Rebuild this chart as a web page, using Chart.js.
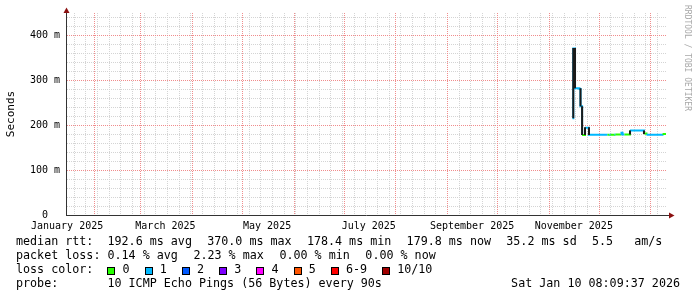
<!DOCTYPE html>
<html>
<head>
<meta charset="utf-8">
<script src="https://cdn.jsdelivr.net/npm/chart.js@4.4.1/dist/chart.umd.min.js"></script>
<style>
  html, body { margin: 0; padding: 0; background: #fff; }
  #wrap { position: relative; width: 697px; height: 297px; overflow: hidden; }
  #c { position: absolute; left: 0; top: 0; }
  .leg { position: absolute; left: 16px; font: 11.7px "DejaVu Sans Mono", monospace; line-height: 14px; white-space: pre; color: #000; }
  .box { display: inline-block; width: 6px; height: 6px; border: 1px solid #000; margin-right: 7px; vertical-align: -1.5px; }
  .item { margin-right: 15.2px; }
  #stamp { position: absolute; right: 17px; top: 276px; font: 11.7px "DejaVu Sans Mono", monospace; line-height: 14px; white-space: pre; }
  #mark { position: absolute; left: 682px; top: 5px; width: 10px; font: 8px "DejaVu Sans Mono", monospace; line-height: 10px; writing-mode: vertical-rl; color: #a8a8a8; white-space: pre; }
</style>
</head>
<body>
<div id="wrap">
  <canvas id="c" width="697" height="297"></canvas>
  <div class="leg" id="row1" style="top:234px"></div>
  <div class="leg" id="row2" style="top:248px"></div>
  <div class="leg" id="row3" style="top:262px"></div>
  <div class="leg" id="row4" style="top:276px"></div>
  <div id="stamp">Sat Jan 10 08:09:37 2026</div>
  <div id="mark">RRDTOOL / TOBI OETIKER</div>
</div>
<script>
// time window: last 360 days
const START = Date.UTC(2025, 0, 15, 8, 9, 37);
const END = Date.UTC(2026, 0, 10, 8, 9, 37);

// median rtt steps (ms) and lost pings per step
const sampleTimes = [
  '2025-11-15T06:00', '2025-11-15T17:00', '2025-11-16T18:00', '2025-11-19T10:00',
  '2025-11-20T01:00', '2025-11-21T00:00', '2025-11-22T18:00', '2025-11-25T03:00',
  '2025-12-06T06:00', '2025-12-07T10:00', '2025-12-08T01:00', '2025-12-10T10:00',
  '2025-12-11T01:00', '2025-12-14T01:00', '2025-12-14T15:00', '2025-12-15T06:00',
  '2025-12-16T10:00', '2025-12-19T18:00', '2025-12-28T03:00', '2025-12-29T15:00',
  '2026-01-08T06:00', '2026-01-10T08:09'
];
const medianMs = [
  215, 370, 282, 280,
  242, 178, 194, 178.5,
  178.5, 178.6, 178.5, 179,
  179, 180, 183, 179,
  179, 188, 181, 178.5,
  180, 179.8
];
const lossCount = [
  1, 1, 1, 1,
  1, 0, 1, 1,
  0, 1, 0, 1,
  0, 1, 1, 1,
  0, 1, 0, 1,
  0, 0
];

// smoke (ping spread) where the median jumps
const smokeTimes = [
  '2025-11-15T17:00', '2025-11-16T18:00', '2025-11-20T01:00', '2025-11-21T00:00',
  '2025-11-22T18:00', '2025-11-25T03:00', '2025-12-19T18:00', '2025-12-28T03:00'
];
const smokeLowMs = [215, 282, 242, 178, 178, 178, 179, 180];
const smokeHighMs = [371, 371, 282, 242, 195, 195, 188, 188];

const monthLabels = ['January 2025', 'March 2025', 'May 2025', 'July 2025', 'September 2025', 'November 2025'];
const monthLabelTimes = ['2025-01-16T00:00', '2025-03-16T00:00', '2025-05-16T00:00', '2025-07-16T00:00', '2025-09-16T00:00', '2025-11-16T00:00'];
const yTicks = [0, 100, 200, 300, 400];

const lossLabels = ['0', '1', '2', '3', '4', '5', '6-9', '10/10'];
const lossColors = ['#26ff00', '#00b8ff', '#0059ff', '#7e00ff', '#ff00ff', '#ff5500', '#ff0000', '#a10000'];

const rttStats = ['192.6 ms avg', '370.0 ms max', '178.4 ms min', '179.8 ms now', '35.2 ms sd', '5.5   am/s'];
const lossStats = ['0.14 % avg', '2.23 % max', '0.00 % min', '0.00 % now'];
const probeText = '10 ICMP Echo Pings (56 Bytes) every 90s';

const toMs = s => Date.parse(s + ':00Z');

// legend rows (rrdtool leaves a bit more than two spaces between items)
const joinItems = (items, extra) => items.map((s, i) =>
  i < items.length - 1 ? '<span style="margin-right:' + extra + 'px">' + s + '  </span>' : s).join('');
document.getElementById('row1').innerHTML = 'median rtt:  ' + joinItems(rttStats, 1.2);
document.getElementById('row2').innerHTML = 'packet loss: ' + joinItems(lossStats, 1.5);
document.getElementById('row3').innerHTML = 'loss color:  ' + lossLabels.map((l, i) =>
  '<span class="item"><span class="box" style="background:' + lossColors[i] + '"></span>' + l + '</span>').join('');
document.getElementById('row4').textContent = 'probe:       ' + probeText;

// grid positions: weekly (Mondays) minor, monthly major
const weekTimes = [];
for (let t = Date.UTC(2025, 0, 20); t < END; t += 7 * 86400000) weekTimes.push(t);
const monthTimes = [];
for (let m = 1; m <= 12; m++) monthTimes.push(Date.UTC(2025, m, 1));

const minorCol = '#d4d4d4';
const majorCol = '#f08c8c';
const axisCol = '#333';
const arrowCol = '#8b1010';

const rrdGrid = {
  id: 'rrdGrid',
  beforeDatasetsDraw(chart) {
    const { ctx, chartArea: a, scales: { x, y } } = chart;
    ctx.save();
    ctx.lineWidth = 1;
    ctx.setLineDash([1, 1]);
    const vline = (v, col) => {
      const px = Math.round(x.getPixelForValue(v)) + 0.5;
      ctx.strokeStyle = col;
      ctx.beginPath(); ctx.moveTo(px, a.top); ctx.lineTo(px, a.bottom); ctx.stroke();
    };
    const hline = (v, col) => {
      const py = Math.round(y.getPixelForValue(v)) + 0.5;
      ctx.strokeStyle = col;
      ctx.beginPath(); ctx.moveTo(a.left + 1, py); ctx.lineTo(a.right, py); ctx.stroke();
    };
    for (let v = 20; v < y.max; v += 20) if (v % 100) hline(v, minorCol);
    weekTimes.forEach(t => vline(t, minorCol));
    for (let v = 100; v < y.max; v += 100) hline(v, majorCol);
    monthTimes.forEach(t => vline(t, majorCol));
    ctx.restore();
  },
  afterDraw(chart) {
    const { ctx, chartArea: a } = chart;
    ctx.save();
    ctx.strokeStyle = axisCol;
    ctx.lineWidth = 1;
    ctx.beginPath(); ctx.moveTo(a.right, a.bottom + 0.5); ctx.lineTo(a.right + 4, a.bottom + 0.5); ctx.stroke();
    ctx.fillStyle = arrowCol;
    ctx.beginPath();
    ctx.moveTo(a.right + 3, a.bottom - 2.5); ctx.lineTo(a.right + 8.5, a.bottom + 0.5); ctx.lineTo(a.right + 3, a.bottom + 3.5);
    ctx.closePath(); ctx.fill();
    ctx.beginPath();
    ctx.moveTo(a.left - 2.5, a.top); ctx.lineTo(a.left + 0.5, a.top - 5.5); ctx.lineTo(a.left + 3.5, a.top);
    ctx.closePath(); ctx.fill();
    ctx.restore();
  }
};

Chart.defaults.font.family = '"DejaVu Sans Mono", monospace';
Chart.defaults.color = '#000';

const smokePts = [];
smokeTimes.forEach((t, i) => {
  const x = toMs(t);
  smokePts.push({ x, y: smokeLowMs[i] }, { x, y: smokeHighMs[i] }, { x, y: null });
});

new Chart(document.getElementById('c'), {
  type: 'line',
  data: {
    datasets: [
      {
        label: 'smoke',
        data: smokePts,
        borderColor: '#1a1a1a',
        borderWidth: 2,
        pointRadius: 0,
        spanGaps: false,
        order: 1
      },
      {
        label: 'median rtt',
        data: sampleTimes.map((t, i) => ({ x: toMs(t), y: medianMs[i] })),
        stepped: true,
        borderWidth: 2,
        pointRadius: 0,
        borderColor: lossColors[0],
        segment: { borderColor: c => lossColors[lossCount[c.p0DataIndex]] },
        order: 2
      }
    ]
  },
  options: {
    responsive: false,
    animation: false,
    layout: { padding: { top: 13, right: 31, bottom: 0, left: 0 } },
    plugins: { legend: { display: false }, tooltip: { enabled: false } },
    scales: {
      x: {
        type: 'linear',
        min: START,
        max: END,
        grid: { display: false, drawTicks: false },
        border: { display: true, color: axisCol, width: 1 },
        afterFit: s => { s.height = 82; },
        afterBuildTicks: s => { s.ticks = monthLabelTimes.map(t => ({ value: toMs(t) })); },
        ticks: {
          autoSkip: false,
          maxRotation: 0,
          padding: 5,
          font: { size: 10 },
          callback: (v, i) => monthLabels[i]
        }
      },
      y: {
        min: 0,
        max: 449,
        grid: { display: false, drawTicks: false },
        border: { display: true, color: axisCol, width: 1 },
        afterFit: s => { s.width = 66; },
        afterBuildTicks: s => { s.ticks = yTicks.map(v => ({ value: v })); },
        ticks: {
          padding: 6,
          font: { size: 10 },
          callback: v => v === 0 ? '0  ' : v + ' m'
        },
        title: {
          display: true,
          text: 'Seconds',
          font: { size: 11 },
          padding: { top: 4.4, bottom: 0 }
        }
      }
    }
  },
  plugins: [rrdGrid]
});
</script>
</body>
</html>
